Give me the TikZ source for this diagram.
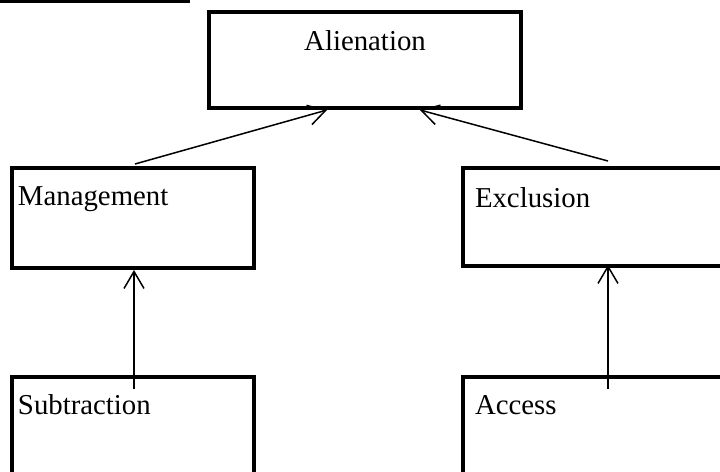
\documentclass[tikz,border=0pt]{standalone}
\usepackage{fontspec}
\setmainfont{Liberation Serif}
\usetikzlibrary{arrows.meta}
\begin{document}
\begin{tikzpicture}[x=0.5pt, y=-0.5pt, >={Straight Barb[length=8.5pt,width=10pt]},
	box/.style={draw, rectangle, line width=2pt, inner ysep=0pt, font=\fontsize{14.4pt}{17pt}\selectfont},
	link/.style={->, line width=0.75pt}]
				\useasboundingbox (0,0) rectangle (720,472);
				\draw[line width=1.5pt] (0,1) -- (190,1);

				\node[box, inner xsep=0pt, text width=156pt, align=center, text height=19pt, text depth=29pt] (alienation) at (365,60) {Alienation};

				% Middle row
				\node[box, inner xsep=3pt, text width=115pt, align=left, text height=18.5pt, text depth=31.5pt] (management) at (133,218) {Management};
				\node[box, inner xsep=6pt, text width=122pt, align=left, text height=19.5pt, text depth=29.5pt] (exclusion) at (597,217) {Exclusion};

				% Bottom row
				\node[box, inner xsep=3pt, text width=115pt, align=left, text height=18.5pt, text depth=30pt] (subtraction) at (133,425.5) {Subtraction};
				\node[box, inner xsep=6pt, text width=122pt, align=left, text height=18.5pt, text depth=30pt] (access) at (597,425.5) {Access};

				\draw[link] ([xshift=1pt,yshift=1pt]management.north) -- ([xshift=-19pt]alienation.south);
				\draw[link] ([xshift=5.5pt,yshift=2.5pt]exclusion.north) -- ([xshift=27.5pt]alienation.south);
				\draw[link] ([xshift=0.5pt,yshift=-7pt]subtraction.north) -- ([xshift=0.5pt]management.south);
				\draw[link] ([xshift=5.5pt,yshift=-7pt]access.north) -- ([xshift=5.5pt,yshift=1.5pt]exclusion.south);
			\end{tikzpicture}
\end{document}
